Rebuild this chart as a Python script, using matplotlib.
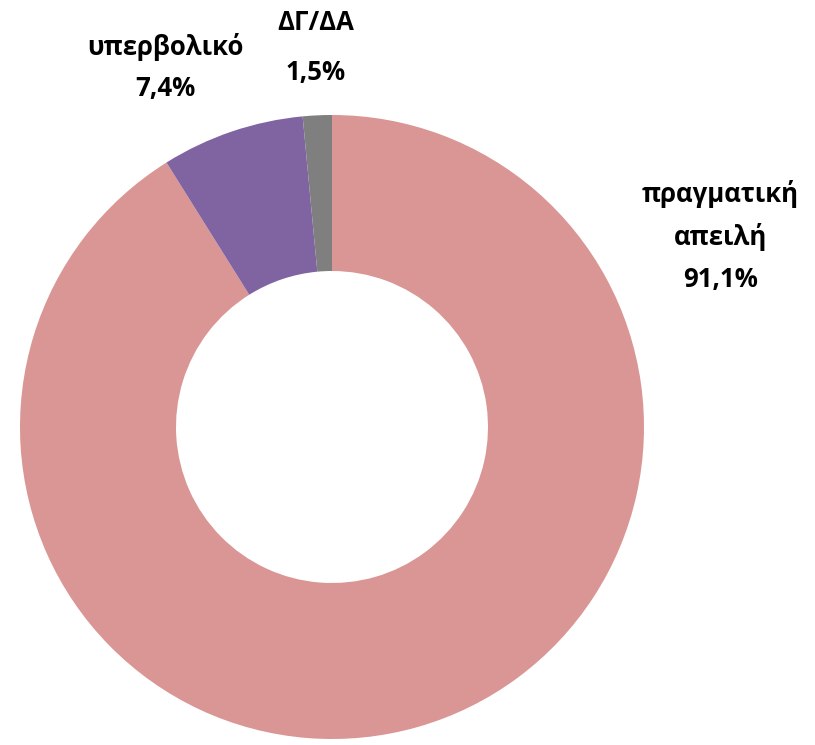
import matplotlib
matplotlib.use("Agg")
import matplotlib.pyplot as plt

labels = ["πραγματική\nαπειλή", "υπερβολικό", "ΔΓ/ΔΑ"]
values = [91.1, 7.4, 1.5]
pct_labels = ["91,1%", "7,4%", "1,5%"]
colors = ["#D99694", "#8064A2", "#7F7F7F"]

plt.rcParams['font.family'] = ['Open Sans', 'DejaVu Sans']

fig = plt.figure(figsize=(8.15, 7.45), dpi=100)
ax = fig.add_axes([20/815, 6/745, 624/815, 624/745])
wedges, _ = ax.pie(values, colors=colors, startangle=90, counterclock=False,
                   wedgeprops=dict(width=0.5, edgecolor='none'), radius=1.0)
ax.set_xlim(-1, 1)
ax.set_ylim(-1, 1)
ax.set_aspect('equal')
ax.axis('off')

positions = [(1.244, 0.612), (-0.535, 1.153), (-0.051, 1.215)]
spacings = [1.7, 1.65, 2.1]
for lab, pct, (x, y), ls in zip(labels, pct_labels, positions, spacings):
    ax.text(x, y, f"{lab}\n{pct}", ha='center', va='center', fontsize=18.5,
            fontweight='bold', linespacing=ls, clip_on=False, color='black')

fig.savefig("out.png", dpi=100)
